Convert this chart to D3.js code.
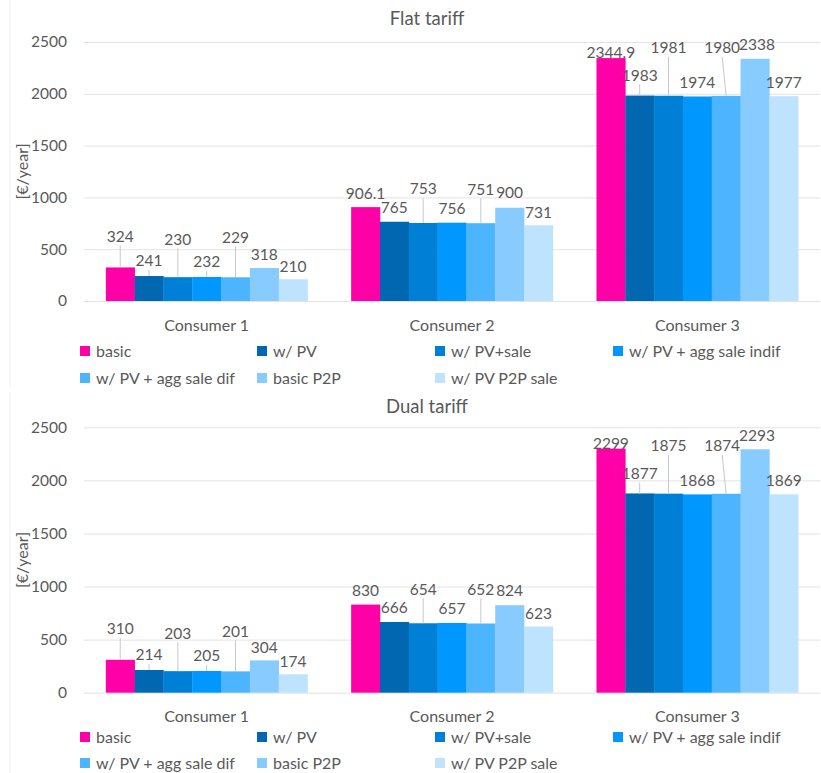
<!DOCTYPE html>
<html lang="en">
<head>
    <meta charset="UTF-8">
    <title>Flat and dual tariff costs</title>
    <script src="https://d3js.org/d3.v7.min.js"></script>
    <style>
        body {
            margin: 0;
            padding: 0;
            background: #fff;
            font-family: Lato, "Open Sans", sans-serif;
        }
        text {
            fill: #595959;
        }
        .grid line {
            stroke: #e3e3e3;
        }
        .leader {
            stroke: #c8c8c8;
            stroke-width: 1;
        }
    </style>
</head>
<body>
    <svg id="chart" width="821" height="773"></svg>

    <script>
        // categories and series
        const consumers = ['Consumer 1', 'Consumer 2', 'Consumer 3'];
        const seriesNames = ['basic', 'w/ PV', 'w/ PV+sale', 'w/ PV + agg sale indif',
                             'w/ PV + agg sale dif', 'basic P2P', 'w/ PV P2P sale'];
        const seriesColors = ['#ff00a8', '#0067b0', '#007fd6', '#0098ff', '#4db4ff', '#88ccff', '#bde3ff'];
        const yTicks = [0, 500, 1000, 1500, 2000, 2500];

        // values per consumer, one entry per series  [€/year]
        const flatC1 = [324, 241, 230, 232, 229, 318, 210];
        const flatC2 = [906.1, 765, 753, 756, 751, 900, 731];
        const flatC3 = [2344.9, 1983, 1981, 1974, 1980, 2338, 1977];
        const dualC1 = [310, 214, 203, 205, 201, 304, 174];
        const dualC2 = [830, 666, 654, 657, 652, 824, 623];
        const dualC3 = [2299, 1877, 1875, 1868, 1874, 2293, 1869];

        // how far each data label sits above its bar (labels were moved by hand in the original)
        const labelLift = [
            [31, 15, 38, 15, 40, 13, 13],
            [14, 14, 34, 14, 34, 15, 13],
            [5, 20, 48, 14, 48, 14, 14]
        ];
        // small sideways nudge of the same labels
        const labelNudge = [
            [0, 0, 0, 0, 0, 0, 0],
            [0, 0, 0, 0, 0, 0, 0],
            [0, 0, 0, 0, -4, 2, 0]
        ];

        const svg = d3.select('#chart');

        function drawPanel(cfg) {
            const g = svg.append('g');

            // faint chart-area border on the left
            g.append('line')
                .attr('x1', 10).attr('x2', 10)
                .attr('y1', cfg.top).attr('y2', cfg.bottom)
                .attr('stroke', '#f0f0f0');

            const x0 = d3.scaleBand()
                .domain(consumers)
                .range([84, 820]);

            const x1 = d3.scaleBand()
                .domain(seriesNames)
                .range([0, x0.bandwidth()])
                .paddingInner(0)
                .paddingOuter(0.757);

            const y = d3.scaleLinear()
                .domain([0, 2500])
                .range([cfg.y0, cfg.y2500]);

            // gridlines
            g.append('g')
                .attr('class', 'grid')
                .attr('transform', 'translate(84,0)')
                .call(d3.axisLeft(y).tickValues(yTicks).tickSize(-736).tickFormat(''))
                .call(a => a.select('.domain').remove());

            // y axis labels
            g.append('g')
                .selectAll('text')
                .data(yTicks)
                .enter()
                .append('text')
                .attr('x', 67)
                .attr('y', d => y(d))
                .attr('dy', '0.35em')
                .attr('text-anchor', 'end')
                .attr('font-size', 15.5)
                .text(d => d);

            // y axis title
            const midY = (cfg.y0 + cfg.y2500) / 2;
            g.append('text')
                .attr('transform', `translate(28,${midY}) rotate(-90)`)
                .attr('text-anchor', 'middle')
                .attr('font-size', 16)
                .text('[€/year]');

            // chart title
            g.append('text')
                .attr('x', 427)
                .attr('y', cfg.titleY)
                .attr('text-anchor', 'middle')
                .attr('dy', '0.35em')
                .attr('font-size', 18.5)
                .text(cfg.title);

            // bars
            const groups = g.selectAll('.cons')
                .data(consumers)
                .enter()
                .append('g')
                .attr('transform', d => `translate(${x0(d)},0)`);

            groups.each(function (c, ci) {
                const vals = cfg.values[ci];
                const grp = d3.select(this);
                const items = vals.map((v, si) => ({ v, si, name: seriesNames[si] }));
                const cx = d => x1(d.name) + x1.bandwidth() / 2;

                grp.selectAll('rect')
                    .data(items)
                    .enter()
                    .append('rect')
                    .attr('x', d => x1(d.name))
                    .attr('y', d => y(d.v))
                    .attr('width', x1.bandwidth() + 0.3)
                    .attr('height', d => y(0) - y(d.v))
                    .attr('fill', d => seriesColors[d.si]);

                // leader lines for labels that were pulled away from the bar
                grp.selectAll('.leader')
                    .data(items.filter(d => labelLift[ci][d.si] >= 15 && d.si !== 5))
                    .enter()
                    .append('line')
                    .attr('class', 'leader')
                    .attr('x1', d => cx(d) + labelNudge[ci][d.si])
                    .attr('x2', cx)
                    .attr('y1', d => y(d.v) - labelLift[ci][d.si] + 9)
                    .attr('y2', d => y(d.v));

                grp.selectAll('.vlabel')
                    .data(items)
                    .enter()
                    .append('text')
                    .attr('class', 'vlabel')
                    .attr('x', d => cx(d) + labelNudge[ci][d.si])
                    .attr('y', d => y(d.v) - labelLift[ci][d.si])
                    .attr('dy', '0.35em')
                    .attr('text-anchor', 'middle')
                    .attr('font-size', 15.5)
                    .text(d => d.v);
            });

            // category labels
            g.append('g')
                .selectAll('text')
                .data(consumers)
                .enter()
                .append('text')
                .attr('x', d => x0(d) + x0.bandwidth() / 2)
                .attr('y', cfg.catY)
                .attr('dy', '0.35em')
                .attr('text-anchor', 'middle')
                .attr('font-size', 16)
                .text(d => d);

            // legend, 4 columns
            const legCols = [80, 257, 435, 613];
            const leg = g.append('g')
                .selectAll('g')
                .data(seriesNames)
                .enter()
                .append('g')
                .attr('transform', (d, i) => `translate(${legCols[i % 4]},${cfg.legY[Math.floor(i / 4)]})`);

            leg.append('rect')
                .attr('x', 0).attr('y', -5)
                .attr('width', 10).attr('height', 10)
                .attr('fill', (d, i) => seriesColors[i]);

            leg.append('text')
                .attr('x', 16)
                .attr('dy', '0.35em')
                .attr('font-size', 16)
                .text(d => d);
        }

        drawPanel({
            title: 'Flat tariff',
            values: [flatC1, flatC2, flatC3],
            top: 0, bottom: 388,
            titleY: 19, y2500: 42, y0: 301,
            catY: 325, legY: [351, 378]
        });

        drawPanel({
            title: 'Dual tariff',
            values: [dualC1, dualC2, dualC3],
            top: 392, bottom: 773,
            titleY: 407, y2500: 427.3, y0: 692.7,
            catY: 716, legY: [737, 763]
        });
    </script>
</body>
</html>
